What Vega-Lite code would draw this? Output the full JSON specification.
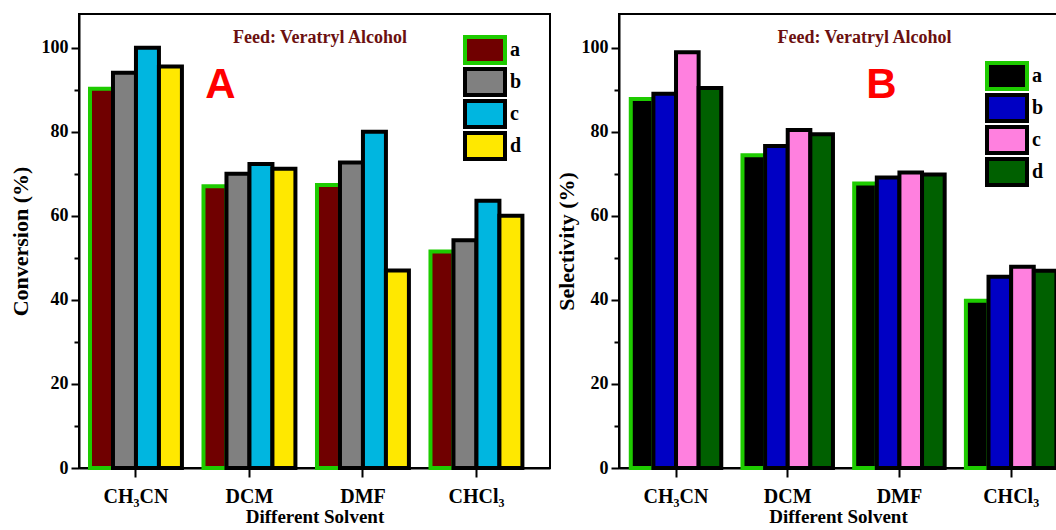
{
  "$schema": "https://vega.github.io/schema/vega-lite/v6.json",
  "padding": {"left": 8, "top": 13, "right": 0, "bottom": 0},
  "background": "white",
  "config": {
    "view": {"stroke": "black", "strokeWidth": 2, "fill": "white"},
    "font": "Liberation Serif",
    "axis": {"labelFont": "Liberation Serif", "labelFontWeight": "bold", "labelColor": "black", "titleFont": "Liberation Serif", "titleFontWeight": "bold", "titleColor": "black", "domainColor": "black", "domainWidth": 2, "tickColor": "black", "tickWidth": 2, "grid": false},
    "legend": {"orient": "none", "title": null, "symbolType": "M-2,-1.3H2V1.3H-2Z", "symbolSize": 400, "symbolStrokeWidth": 4, "symbolOpacity": 1, "symbolOffset": 10, "labelFont": "Liberation Serif", "labelFontWeight": "bold", "labelFontSize": 20, "labelColor": "black", "rowPadding": 2, "clipHeight": 30, "padding": 0, "labelOffset": 13},
    "concat": {"spacing": 3}
  },
  "datasets": {
    "conv": [
      {"solvent": "CH₃CN", "series": "a", "value": 90.2},
      {"solvent": "CH₃CN", "series": "b", "value": 94.0},
      {"solvent": "CH₃CN", "series": "c", "value": 100.0},
      {"solvent": "CH₃CN", "series": "d", "value": 95.5},
      {"solvent": "DCM", "series": "a", "value": 67.0},
      {"solvent": "DCM", "series": "b", "value": 70.0},
      {"solvent": "DCM", "series": "c", "value": 72.3},
      {"solvent": "DCM", "series": "d", "value": 71.2},
      {"solvent": "DMF", "series": "a", "value": 67.3},
      {"solvent": "DMF", "series": "b", "value": 72.7},
      {"solvent": "DMF", "series": "c", "value": 80.0},
      {"solvent": "DMF", "series": "d", "value": 47.0},
      {"solvent": "CHCl₃", "series": "a", "value": 51.5},
      {"solvent": "CHCl₃", "series": "b", "value": 54.2},
      {"solvent": "CHCl₃", "series": "c", "value": 63.6},
      {"solvent": "CHCl₃", "series": "d", "value": 60.0}
    ],
    "sel": [
      {"solvent": "CH₃CN", "series": "a", "value": 87.8},
      {"solvent": "CH₃CN", "series": "b", "value": 89.0},
      {"solvent": "CH₃CN", "series": "c", "value": 98.9},
      {"solvent": "CH₃CN", "series": "d", "value": 90.4},
      {"solvent": "DCM", "series": "a", "value": 74.4},
      {"solvent": "DCM", "series": "b", "value": 76.6},
      {"solvent": "DCM", "series": "c", "value": 80.4},
      {"solvent": "DCM", "series": "d", "value": 79.4},
      {"solvent": "DMF", "series": "a", "value": 67.7},
      {"solvent": "DMF", "series": "b", "value": 69.1},
      {"solvent": "DMF", "series": "c", "value": 70.3},
      {"solvent": "DMF", "series": "d", "value": 69.8},
      {"solvent": "CHCl₃", "series": "a", "value": 39.8},
      {"solvent": "CHCl₃", "series": "b", "value": 45.5},
      {"solvent": "CHCl₃", "series": "c", "value": 47.9},
      {"solvent": "CHCl₃", "series": "d", "value": 46.9}
    ]
  },
  "hconcat": [
    {
      "width": 471,
      "height": 454,
      "layer": [
        {
          "data": {"name": "conv"},
          "mark": {"type": "bar", "strokeWidth": 4, "strokeJoin": "miter", "fillOpacity": 1},
          "encoding": {
            "x": {"field": "solvent", "type": "nominal", "sort": ["CH₃CN", "DCM", "DMF", "CHCl₃"], "title": "Different Solvent",
              "scale": {"paddingInner": 0.19, "paddingOuter": 0.17, "align": 0.285},
              "axis": {"labelAngle": 0, "labelFontSize": 20, "titleFontSize": 19, "tickSize": 9, "labelPadding": 9, "titlePadding": 1}},
            "xOffset": {"field": "series", "type": "nominal", "sort": ["a", "b", "c", "d"], "scale": {"paddingInner": 0, "paddingOuter": 0}},
            "y": {"field": "value", "type": "quantitative", "title": "Conversion (%)",
              "scale": {"domain": [0, 108], "nice": false},
              "axis": {"values": [0, 10, 20, 30, 40, 50, 60, 70, 80, 90, 100], "labelExpr": "datum.value % 20 === 0 ? datum.label : ''", "tickSize": {"condition": {"test": "datum.value % 20 === 0", "value": 8}, "value": 5}, "labelFontSize": 18, "titleFontSize": 22, "titlePadding": 9, "labelPadding": 3}},
            "fill": {"field": "series", "type": "nominal", "scale": {"domain": ["a", "b", "c", "d"], "range": ["#700000", "#808080", "#00B6E0", "#FFE800"]}, "legend": {"legendX": 384, "legendY": 21}},
            "stroke": {"field": "series", "type": "nominal", "scale": {"domain": ["a", "b", "c", "d"], "range": ["#1ECB00", "#000000", "#000000", "#000000"]}, "legend": {"legendX": 384, "legendY": 21}}
          }
        },
        {
          "data": {"values": [{}]},
          "mark": {"type": "text", "font": "Liberation Serif", "fontWeight": "bold", "fontSize": 18, "color": "#6B1010", "align": "center", "baseline": "middle", "dx": -43},
          "encoding": {"x": {"datum": "DMF"}, "y": {"datum": 102.4}, "text": {"value": "Feed: Veratryl Alcohol"}}
        },
        {
          "data": {"values": [{}]},
          "mark": {"type": "text", "font": "Liberation Sans", "fontWeight": "bold", "fontSize": 42, "color": "#FF0000", "align": "center", "baseline": "middle", "dx": -29},
          "encoding": {"x": {"datum": "DCM"}, "y": {"datum": 91}, "text": {"value": "A"}}
        }
      ]
    },
    {
      "width": 438,
      "height": 454,
      "view": {"stroke": "black", "strokeWidth": 2, "strokeDash": [438, 454, 2000]},
      "layer": [
        {
          "data": {"name": "sel"},
          "mark": {"type": "bar", "strokeWidth": 4, "strokeJoin": "miter", "fillOpacity": 1},
          "encoding": {
            "x": {"field": "solvent", "type": "nominal", "sort": ["CH₃CN", "DCM", "DMF", "CHCl₃"], "title": "Different Solvent",
              "scale": {"paddingInner": 0.19, "paddingOuter": 0.0555, "align": 0.95},
              "axis": {"labelAngle": 0, "labelFontSize": 20, "titleFontSize": 19, "tickSize": 9, "labelPadding": 9, "titlePadding": 1}},
            "xOffset": {"field": "series", "type": "nominal", "sort": ["a", "b", "c", "d"], "scale": {"paddingInner": 0, "paddingOuter": 0}},
            "y": {"field": "value", "type": "quantitative", "title": "Selectivity (%)",
              "scale": {"domain": [0, 108], "nice": false},
              "axis": {"values": [0, 10, 20, 30, 40, 50, 60, 70, 80, 90, 100], "labelExpr": "datum.value % 20 === 0 ? datum.label : ''", "tickSize": {"condition": {"test": "datum.value % 20 === 0", "value": 8}, "value": 5}, "labelFontSize": 18, "titleFontSize": 22, "titlePadding": 3, "labelPadding": 3}},
            "fill": {"field": "series", "type": "nominal", "scale": {"domain": ["a", "b", "c", "d"], "range": ["#000000", "#0000C4", "#FF80DF", "#006000"]}, "legend": {"legendX": 366, "legendY": 47}},
            "stroke": {"field": "series", "type": "nominal", "scale": {"domain": ["a", "b", "c", "d"], "range": ["#1ECB00", "#000000", "#000000", "#000000"]}, "legend": {"legendX": 366, "legendY": 47}}
          }
        },
        {
          "data": {"values": [{}]},
          "mark": {"type": "text", "font": "Liberation Serif", "fontWeight": "bold", "fontSize": 18, "color": "#6B1010", "align": "center", "baseline": "middle", "dx": -35},
          "encoding": {"x": {"datum": "DMF"}, "y": {"datum": 102.4}, "text": {"value": "Feed: Veratryl Alcohol"}}
        },
        {
          "data": {"values": [{}]},
          "mark": {"type": "text", "font": "Liberation Sans", "fontWeight": "bold", "fontSize": 42, "color": "#FF0000", "align": "center", "baseline": "middle", "dx": -18},
          "encoding": {"x": {"datum": "DMF"}, "y": {"datum": 91}, "text": {"value": "B"}}
        }
      ]
    }
  ],
  "resolve": {
    "scale": {"x": "independent", "y": "independent", "xOffset": "independent", "fill": "independent", "stroke": "independent"},
    "legend": {"fill": "independent", "stroke": "independent"}
  }
}
